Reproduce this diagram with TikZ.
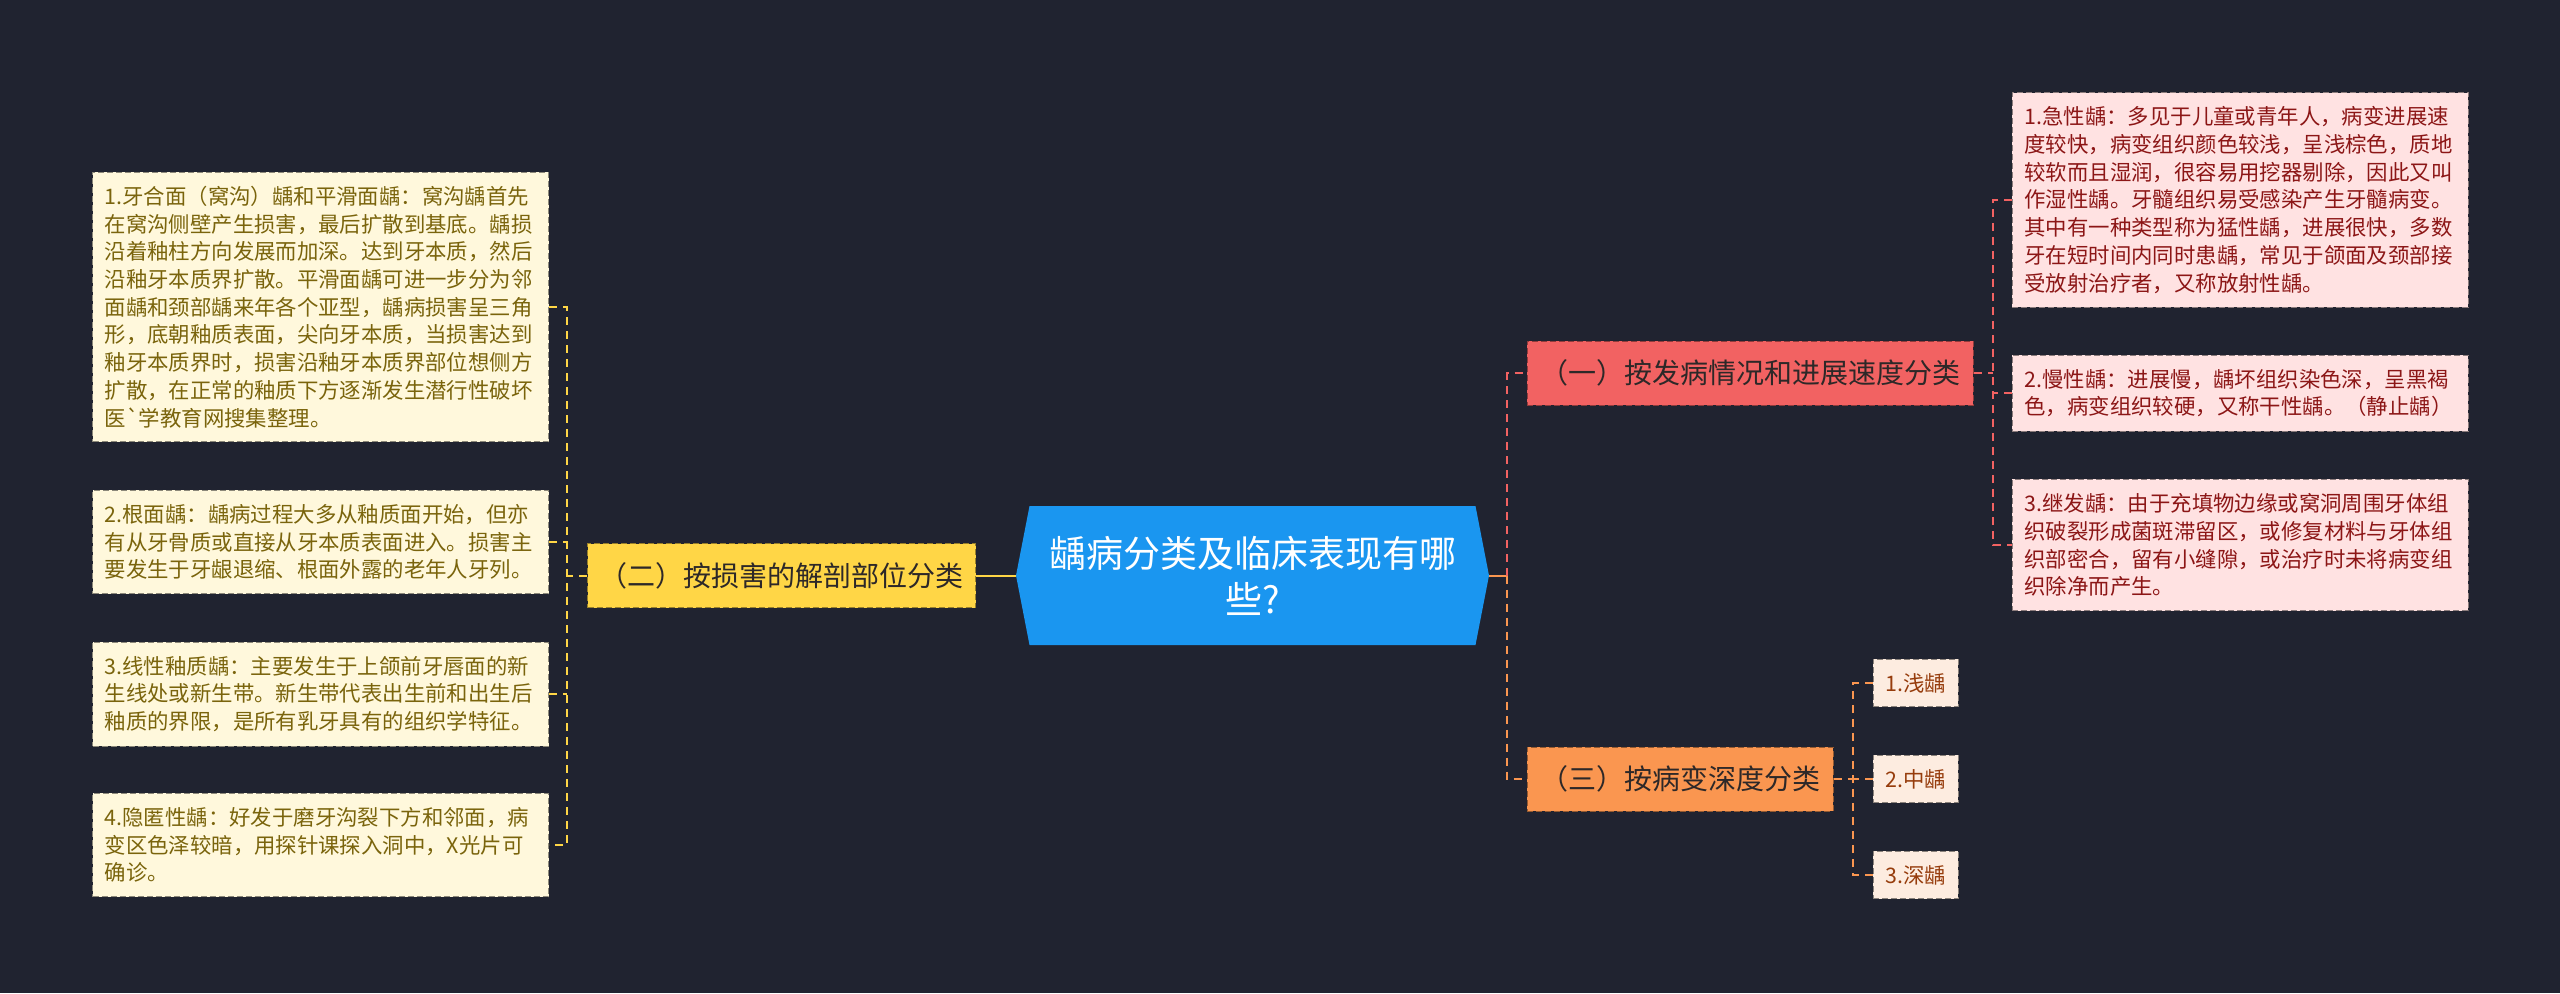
\documentclass[tikz,border=0pt]{standalone}
\usepackage{fontspec}
\newfontfamily\cjk{Noto Sans CJK SC}
\usepackage{tikz}
\usetikzlibrary{shapes.symbols, positioning}
\definecolor{bgc}{RGB}{32,35,48}
\definecolor{hubc}{RGB}{26,150,240}
\definecolor{yelc}{RGB}{255,214,70}
\definecolor{redc}{RGB}{242,98,98}
\definecolor{orc}{RGB}{250,150,80}
\definecolor{brtext}{RGB}{45,40,40}
\definecolor{creamc}{RGB}{255,248,220}
\definecolor{creamt}{RGB}{122,100,12}
\definecolor{pinkc}{RGB}{255,226,226}
\definecolor{pinkt}{RGB}{140,22,22}
\definecolor{peachc}{RGB}{253,236,224}
\definecolor{peacht}{RGB}{150,60,12}
\tikzset{
  hub/.style={signal, signal to=west and east, signal pointer angle=158, fill=hubc, text=white, minimum width=236.5pt, minimum height=69.5pt, align=center, inner sep=0pt, font=\cjk\fontsize{18.5}{23}\selectfont},
  branch/.style={rectangle, draw=#1!60!black, dash pattern=on 3pt off 1.5pt, fill=#1, text=brtext, minimum height=32pt, inner xsep=6pt, font=\cjk\fontsize{14}{17}\selectfont},
  leaf/.style 2 args={rectangle, draw=#1!55!black, dash pattern=on 3pt off 1.5pt, fill=#1, text=#2, inner xsep=6pt, inner ysep=7pt, align=left, font=\cjk\fontsize{10.7}{13.85}\selectfont},
  wide/.style={text width=216pt},
  link/.style={draw=#1, line width=1pt, dash pattern=on 4pt off 3pt},
}
\begin{document}
\begin{tikzpicture}[x=0.5pt, y=-0.5pt]
\useasboundingbox (0,0) rectangle (2560,993);
\fill[bgc] (0,0) rectangle (2560,993);
% centre and the three branches
\node[hub] (hub) at (1252.5,575.5) {龋病分类及临床表现有哪\\些?};
\node[branch=yelc, minimum width=194pt, anchor=east] (anat) at (976,575.5) {（二）按损害的解剖部位分类};
\node[branch=redc, minimum width=223pt, anchor=west] (speed) at (1527,373) {（一）按发病情况和进展速度分类};
\node[branch=orc, minimum width=153pt, anchor=west] (depth) at (1527,779) {（三）按病变深度分类};
% left leaves
\node[leaf={creamc}{creamt}, wide, anchor=east] (pit) at (549,307) {1.牙合面（窝沟）龋和平滑面龋：窝沟龋首先\\在窝沟侧壁产生损害，最后扩散到基底。龋损\\沿着釉柱方向发展而加深。达到牙本质，然后\\沿釉牙本质界扩散。平滑面龋可进一步分为邻\\面龋和颈部龋来年各个亚型，龋病损害呈三角\\形，底朝釉质表面，尖向牙本质，当损害达到\\釉牙本质界时，损害沿釉牙本质界部位想侧方\\扩散，在正常的釉质下方逐渐发生潜行性破坏\\医`学教育网搜集整理。};
\node[leaf={creamc}{creamt}, wide, anchor=east] (root) at (549,542) {2.根面龋：龋病过程大多从釉质面开始，但亦\\有从牙骨质或直接从牙本质表面进入。损害主\\要发生于牙龈退缩、根面外露的老年人牙列。};
\node[leaf={creamc}{creamt}, wide, anchor=east] (linear) at (549,694) {3.线性釉质龋：主要发生于上颌前牙唇面的新\\生线处或新生带。新生带代表出生前和出生后\\釉质的界限，是所有乳牙具有的组织学特征。};
\node[leaf={creamc}{creamt}, wide, anchor=east] (hidden) at (549,845) {4.隐匿性龋：好发于磨牙沟裂下方和邻面，病\\变区色泽较暗，用探针课探入洞中，X光片可\\确诊。};
% right leaves
\node[leaf={pinkc}{pinkt}, wide, anchor=west] (acute) at (2012,200) {1.急性龋：多见于儿童或青年人，病变进展速\\度较快，病变组织颜色较浅，呈浅棕色，质地\\较软而且湿润，很容易用挖器剔除，因此又叫\\作湿性龋。牙髓组织易受感染产生牙髓病变。\\其中有一种类型称为猛性龋，进展很快，多数\\牙在短时间内同时患龋，常见于颌面及颈部接\\受放射治疗者，又称放射性龋。};
\node[leaf={pinkc}{pinkt}, wide, anchor=west] (chronic) at (2012,393) {2.慢性龋：进展慢，龋坏组织染色深，呈黑褐\\色，病变组织较硬，又称干性龋。（静止龋）};
\node[leaf={pinkc}{pinkt}, wide, anchor=west] (second) at (2012,545) {3.继发龋：由于充填物边缘或窝洞周围牙体组\\织破裂形成菌斑滞留区，或修复材料与牙体组\\织部密合，留有小缝隙，或治疗时未将病变组\\织除净而产生。};
\node[leaf={peachc}{peacht}, anchor=west] (shallow) at (1873,683) {1.浅龋};
\node[leaf={peachc}{peacht}, anchor=west] (medium) at (1873,779) {2.中龋};
\node[leaf={peachc}{peacht}, anchor=west] (deep) at (1873,875) {3.深龋};
% connectors
\coordinate (lbus) at (567,575.5);
\coordinate (rbus) at (1507,575.5);
\coordinate (sbus) at (1993,373);
\coordinate (dbus) at (1853,779);
\draw[yelc, line width=1pt] (hub.west) -- (anat.east);
\draw[link=yelc] (anat.west) -- (lbus);
\draw[link=yelc] (pit.east) -- (pit.east -| lbus) -- (hidden.east -| lbus) -- (hidden.east);
\draw[link=yelc] (root.east) -- (root.east -| lbus);
\draw[link=yelc] (linear.east) -- (linear.east -| lbus);
\draw[orc, line width=1pt] (hub.east) -- (rbus);
\draw[link=redc] (rbus) |- (speed.west);
\draw[link=orc] (rbus) |- (depth.west);
\draw[link=redc] (speed.east) -- (sbus);
\draw[link=redc] (acute.west) -- (acute.west -| sbus) -- (second.west -| sbus) -- (second.west);
\draw[link=redc] (chronic.west) -- (chronic.west -| sbus);
\draw[link=orc] (depth.east) -- (dbus);
\draw[link=orc] (shallow.west) -- (shallow.west -| dbus) -- (deep.west -| dbus) -- (deep.west);
\draw[link=orc] (medium.west) -- (medium.west -| dbus);
\end{tikzpicture}
\end{document}
